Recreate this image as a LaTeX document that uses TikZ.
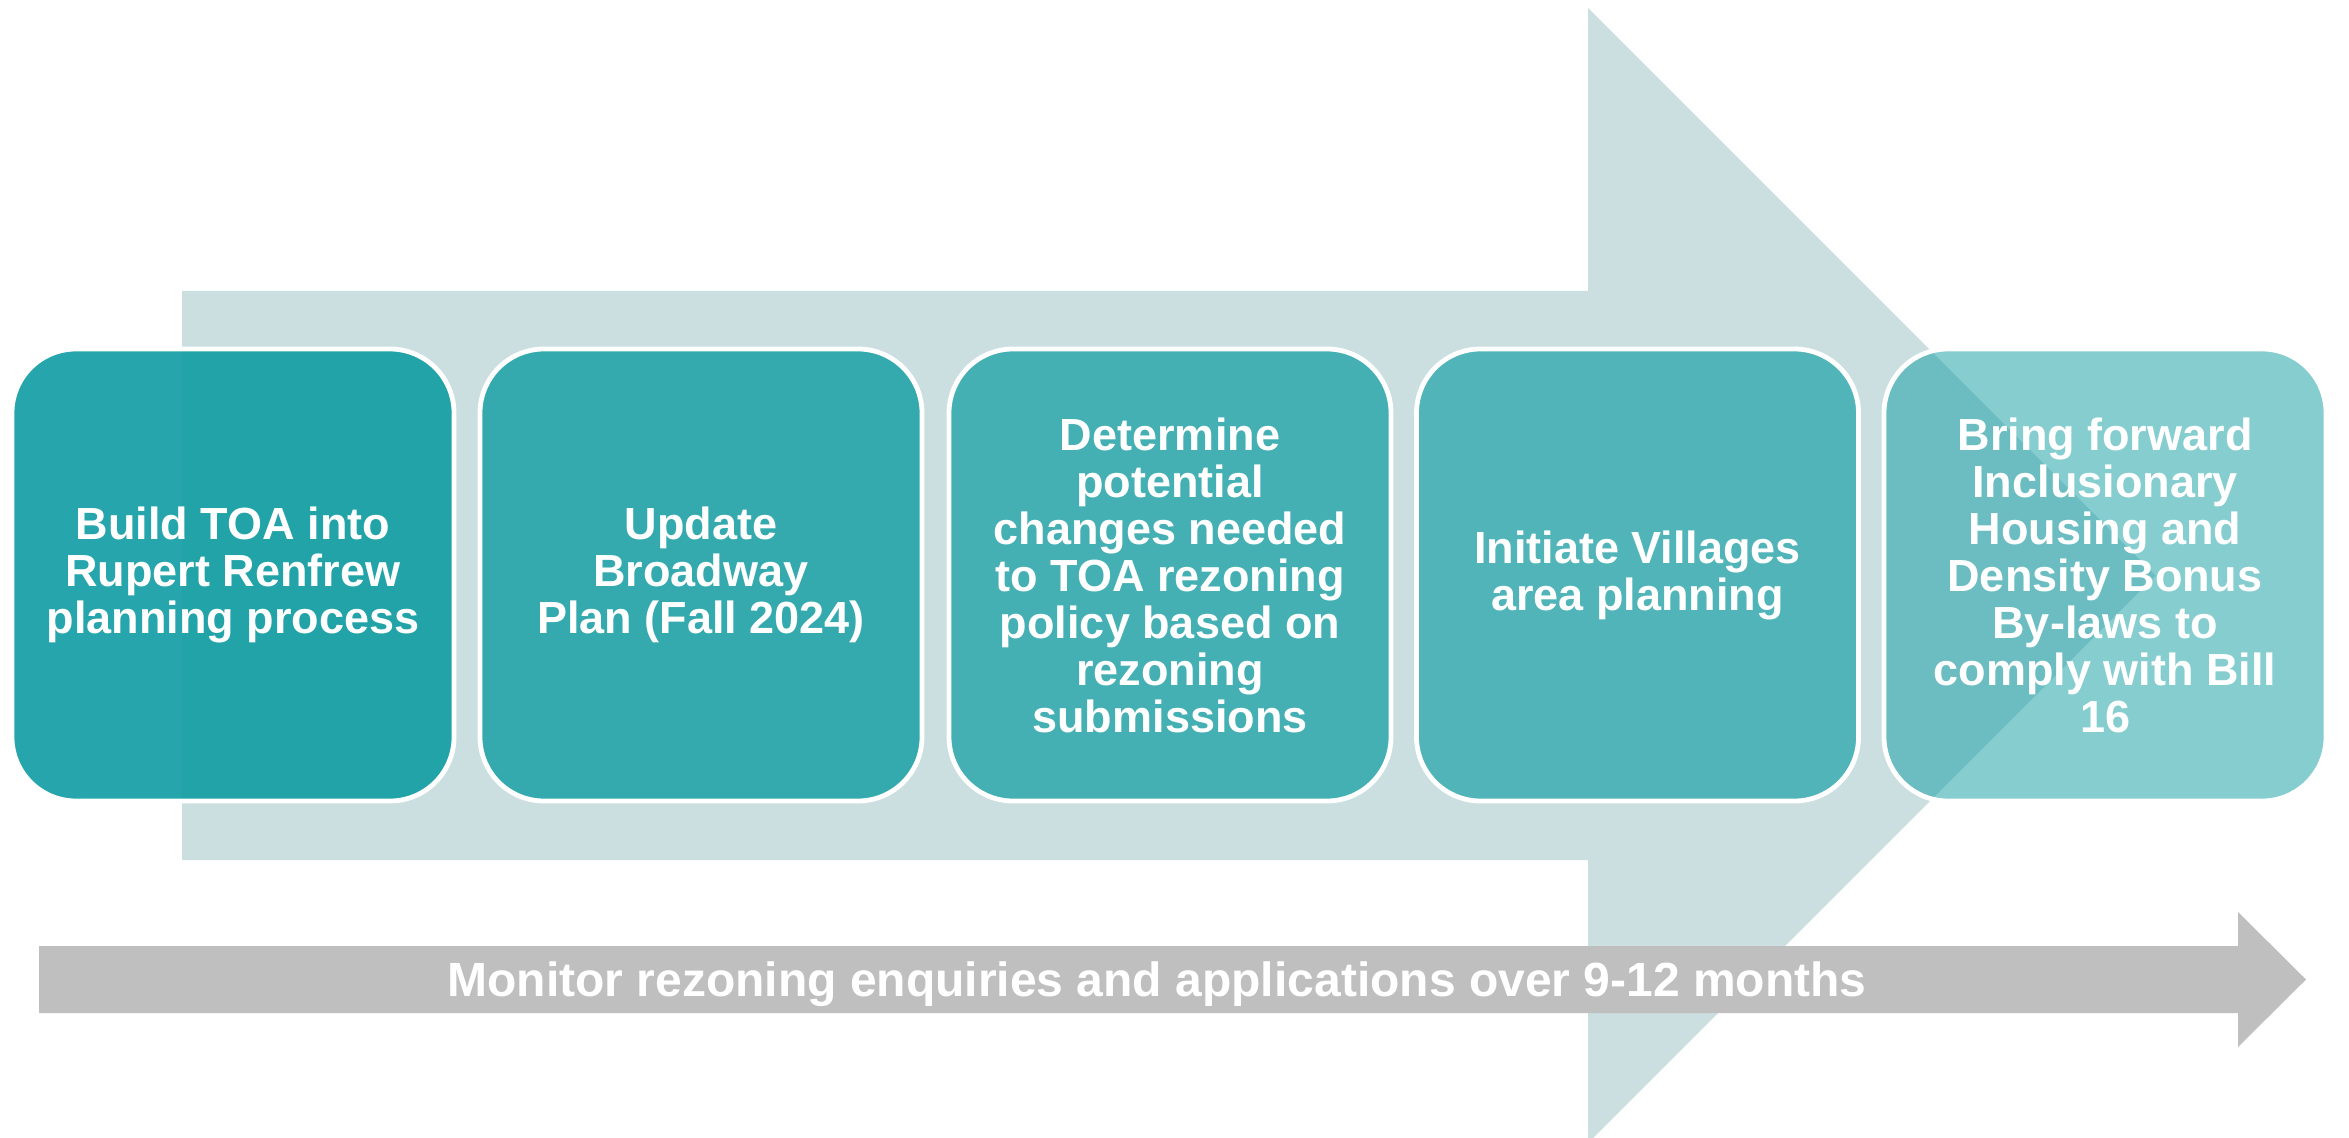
\documentclass[tikz,border=0pt]{standalone}
\usepackage{fontspec}
\setmainfont{Liberation Sans}
\definecolor{tealbase}{RGB}{15,157,163}
\definecolor{arrowbg}{RGB}{203,223,224}
\definecolor{greyband}{RGB}{191,191,191}
\begin{document}
\begin{tikzpicture}[x=0.5pt,y=-0.5pt,
  stepbox/.style={draw=white, line width=2.4pt, rounded corners=32pt,
    fill=tealbase, minimum width=221pt, minimum height=226pt,
    text=white, text opacity=1, draw opacity=1, align=center, inner sep=0pt,
    font=\fontsize{22.5}{23.5}\selectfont\bfseries},
  bandtext/.style={text=white, font=\fontsize{24}{28}\selectfont\bfseries}
 ]
\useasboundingbox (0,0) rectangle (2349,1138);
\fill[white] (0,0) rectangle (2349,1138);

% large background arrow
\fill[arrowbg] (182,291) -- (1588,291) -- (1588,8) -- (2155.5,575.5)
  -- (1588,1143) -- (1588,860) -- (182,860) -- cycle;

% process steps, all on one row
\node[stepbox, fill opacity=0.9]  (s1) at (233,575)
  {Build TOA into\\Rupert Renfrew\\planning process};
\node[stepbox, fill opacity=0.8]  (s2) at (701,575)
  {Update\\Broadway\\Plan (Fall 2024)};
\node[stepbox, fill opacity=0.71] (s3) at (1170,575)
  {Determine\\potential\\changes needed\\to TOA rezoning\\policy based on\\rezoning\\submissions};
\node[stepbox, fill opacity=0.65] (s4) at (1637.5,575)
  {Initiate Villages\\area planning};
\node[stepbox, fill opacity=0.5]  (s5) at (2105,575)
  {Bring forward\\Inclusionary\\Housing and\\Density Bonus\\By-laws to\\comply with Bill\\16};

% monitoring band
\fill[greyband] (39,946) -- (2238,946) -- (2238,912) -- (2306,979.5)
  -- (2238,1047) -- (2238,1013) -- (39,1013) -- cycle;
\node[bandtext] (monitor) at (1157,984)
  {Monitor rezoning enquiries and applications over 9-12 months};
\end{tikzpicture}
\end{document}
